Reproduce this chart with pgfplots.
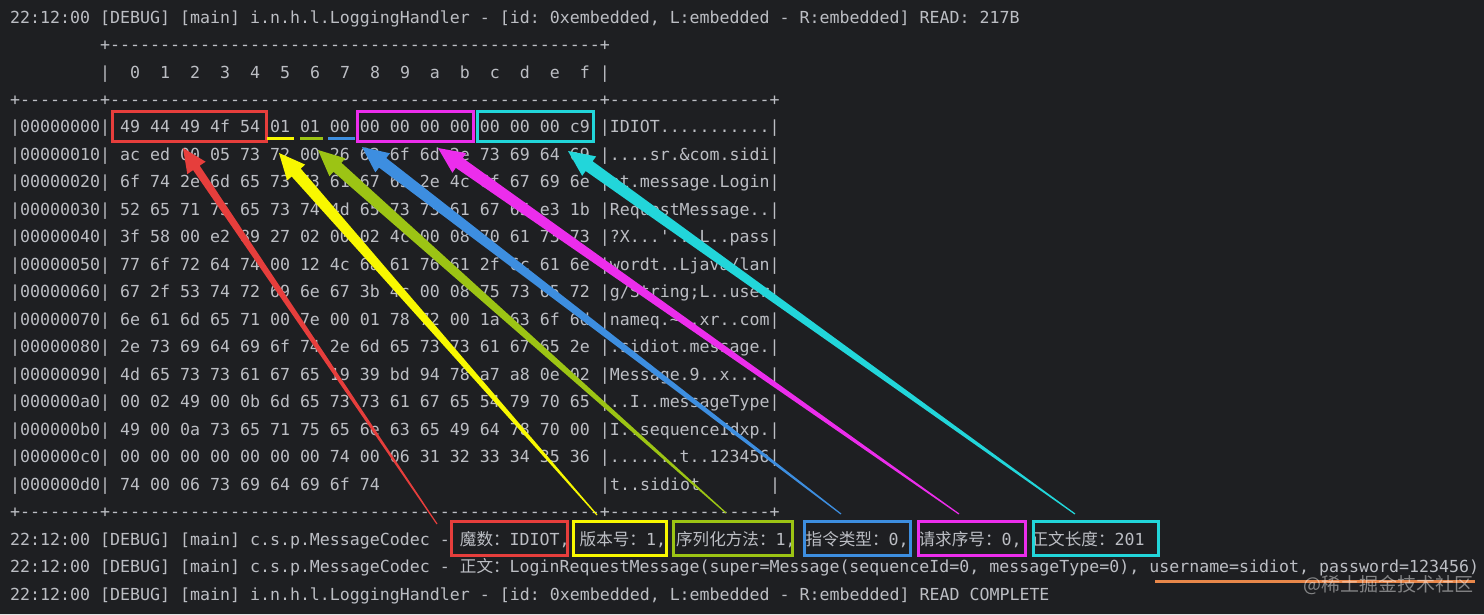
\documentclass[border=0pt]{standalone}
\usepackage{pgfplots}
\pgfplotsset{compat=1.18}
\usepackage{fontspec}
\setmonofont{DejaVu Sans Mono}
\newfontfamily\cjk{Noto Sans CJK SC}
\definecolor{bg}{HTML}{1E1F22}
\definecolor{fg}{HTML}{BCBEC4}
\definecolor{cR}{HTML}{E63E3C}
\definecolor{cY}{HTML}{F8F800}
\definecolor{cG}{HTML}{9CC414}
\definecolor{cB}{HTML}{3D8EE0}
\definecolor{cM}{HTML}{EC2DEC}
\definecolor{cC}{HTML}{22D6DA}
\definecolor{cO}{HTML}{E8874A}
\newcommand\fs{\fontsize{16.6}{20}\selectfont\ttfamily}
\newcommand\tl[3]{\node[anchor=base west,inner sep=0pt,text=fg,font=\fs] at (axis cs:#1,#2) {#3};}
\begin{document}
\begin{tikzpicture}
\begin{axis}[width=1484pt,height=614pt,scale only axis,
  xmin=0,xmax=1484,ymin=0,ymax=614,y dir=reverse,hide axis,clip=false]
% background
\addplot[fill=bg,draw=none] coordinates {(0,0) (1484,0) (1484,614) (0,614) (0,0)};
% text lines
\tl{10}{23.0}{22:12:00 [DEBUG] [main] i.n.h.l.LoggingHandler - [id: 0xembedded, L:embedded - R:embedded] READ: 217B}
\tl{100}{50.5}{+-------------------------------------------------+}
\tl{100}{78.0}{|~~0~~1~~2~~3~~4~~5~~6~~7~~8~~9~~a~~b~~c~~d~~e~~f~|}
\tl{10}{105.4}{+--------+-------------------------------------------------+----------------+}
\tl{10}{132.9}{|00000000| 49 44 49 4f 54 01 01 00 00 00 00 00 00 00 00 c9 |IDIOT...........|}
\tl{10}{160.4}{|00000010| ac ed 00 05 73 72 00 26 63 6f 6d 2e 73 69 64 69 |....sr.\&com.sidi|}
\tl{10}{187.9}{|00000020| 6f 74 2e 6d 65 73 73 61 67 65 2e 4c 6f 67 69 6e |ot.message.Login|}
\tl{10}{215.4}{|00000030| 52 65 71 75 65 73 74 4d 65 73 73 61 67 65 e3 1b |RequestMessage..|}
\tl{10}{242.8}{|00000040| 3f 58 00 e2 89 27 02 00 02 4c 00 08 70 61 73 73 |?X...'...L..pass|}
\tl{10}{270.3}{|00000050| 77 6f 72 64 74 00 12 4c 6a 61 76 61 2f 6c 61 6e |wordt..Ljava/lan|}
\tl{10}{297.8}{|00000060| 67 2f 53 74 72 69 6e 67 3b 4c 00 08 75 73 65 72 |g/String;L..user|}
\tl{10}{325.3}{|00000070| 6e 61 6d 65 71 00 7e 00 01 78 72 00 1a 63 6f 6d |nameq.\textasciitilde..xr..com|}
\tl{10}{352.8}{|00000080| 2e 73 69 64 69 6f 74 2e 6d 65 73 73 61 67 65 2e |.sidiot.message.|}
\tl{10}{380.2}{|00000090| 4d 65 73 73 61 67 65 19 39 bd 94 78 a7 a8 0e 02 |Message.9..x....|}
\tl{10}{407.7}{|000000a0| 00 02 49 00 0b 6d 65 73 73 61 67 65 54 79 70 65 |..I..messageType|}
\tl{10}{435.2}{|000000b0| 49 00 0a 73 65 71 75 65 6e 63 65 49 64 78 70 00 |I..sequenceIdxp.|}
\tl{10}{462.7}{|000000c0| 00 00 00 00 00 00 00 74 00 06 31 32 33 34 35 36 |.......t..123456|}
\tl{10}{490.2}{|000000d0| 74 00 06 73 69 64 69 6f 74}
\tl{600}{490.2}{|t..sidiot}
\tl{770}{490.2}{|}
\tl{10}{517.6}{+--------+-------------------------------------------------+----------------+}
\tl{10}{545.1}{22:12:00 [DEBUG] [main] c.s.p.MessageCodec - {\cjk 魔数：}IDIOT, {\cjk 版本号：}1, {\cjk 序列化方法：}1, {\cjk 指令类型：}0, {\cjk 请求序号：}0, {\cjk 正文长度：}201}
\tl{10}{572.6}{22:12:00 [DEBUG] [main] c.s.p.MessageCodec - {\cjk 正文：}LoginRequestMessage(super=Message(sequenceId=0, messageType=0), username=sidiot, password=123456)}
\tl{10}{600.1}{22:12:00 [DEBUG] [main] i.n.h.l.LoggingHandler - [id: 0xembedded, L:embedded - R:embedded] READ COMPLETE}
% boxes top
\addplot[draw=cR,line width=3pt,line cap=rect] coordinates {(112,111) (266,111) (266,141) (112,141) (112,111)};
\addplot[draw=cM,line width=3pt,line cap=rect] coordinates {(357,111) (473,111) (473,141) (357,141) (357,111)};
\addplot[draw=cC,line width=3pt,line cap=rect] coordinates {(477,111) (593,111) (593,141) (477,141) (477,111)};
\addplot[draw=cY,line width=3pt] coordinates {(267,138) (294,138)};
\addplot[draw=cG,line width=3pt] coordinates {(300,138) (323,138)};
\addplot[draw=cB,line width=3pt] coordinates {(328,138) (355,138)};
% boxes bottom
\addplot[draw=cR,line width=3pt,line cap=rect] coordinates {(451,521) (567,521) (567,555) (451,555) (451,521)};
\addplot[draw=cY,line width=3pt,line cap=rect] coordinates {(573,521) (666,521) (666,555) (573,555) (573,521)};
\addplot[draw=cG,line width=3pt,line cap=rect] coordinates {(673,521) (792,521) (792,555) (673,555) (673,521)};
\addplot[draw=cB,line width=3pt,line cap=rect] coordinates {(804,521) (910,521) (910,555) (804,555) (804,521)};
\addplot[draw=cM,line width=3pt,line cap=rect] coordinates {(918,521) (1025,521) (1025,555) (918,555) (918,521)};
\addplot[draw=cC,line width=3pt,line cap=rect] coordinates {(1033,521) (1158,521) (1158,555) (1033,555) (1033,521)};
% arrows (tapered polygons)
\addplot[fill=cR,draw=none] coordinates {(437.5,523.7) (199.7,165.7) (205.6,161.7) (183,148) (187.3,174.1) (193.1,170.1) (436.5,524.3)};
\addplot[fill=cY,draw=none] coordinates {(597.45,514.60) (300.67,168.57) (305.18,164.61) (279,153) (287.14,180.45) (291.65,176.49) (596.55,515.40)};
\addplot[fill=cG,draw=none] coordinates {(726.40,512.55) (341.41,162.80) (345.40,158.31) (318,150) (329.44,176.25) (333.43,171.76) (725.60,513.45)};
\addplot[fill=cB,draw=none] coordinates {(841.36,513.52) (386.29,158.05) (389.94,153.28) (362,147) (375.34,172.34) (378.99,167.57) (840.64,514.48)};
\addplot[fill=cM,draw=none] coordinates {(959.34,513.51) (462.73,158.03) (466.18,153.12) (438,148) (452.38,172.76) (455.83,167.85) (958.66,514.49)};
\addplot[fill=cC,draw=none] coordinates {(1075.35,513.51) (592.63,161.25) (596.13,156.37) (568,151) (582.15,175.89) (585.65,171.01) (1074.65,514.49)};
% orange underline
\addplot[draw=cO,line width=3pt] coordinates {(1155,581) (1475,581)};
% watermark
\node[anchor=west,inner sep=0pt,text=white,opacity=0.45,font={\cjk\fontsize{19}{20}\selectfont}] at (axis cs:1303,585) {@稀土掘金技术社区};
\end{axis}
\pgfresetboundingbox
\path[use as bounding box] (0,0) rectangle (1484pt,614pt);
\end{tikzpicture}
\end{document}
